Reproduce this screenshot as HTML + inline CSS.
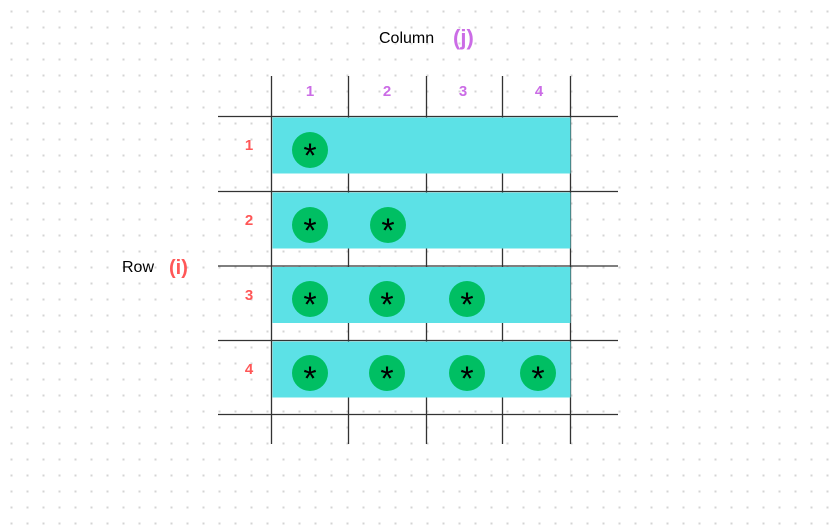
<!DOCTYPE html>
<html><head><meta charset="utf-8"><style>
html,body{margin:0;padding:0;background:#fff;}
svg{display:block;}
text{font-family:"Liberation Sans","DejaVu Sans",sans-serif;}
</style></head><body>
<svg width="829" height="527" viewBox="0 0 829 527" xmlns="http://www.w3.org/2000/svg">
<defs>
<pattern id="dots" x="0" y="0" width="16" height="16" patternUnits="userSpaceOnUse">
<rect x="10.5" y="10.5" width="2" height="2" fill="#d4d4d4"/>
</pattern>
</defs>
<rect width="829" height="527" fill="#fff"/>
<rect width="829" height="527" fill="url(#dots)"/>

<g stroke="#333" stroke-width="1.3">
<line x1="271.5" y1="76" x2="271.5" y2="444"/>
<line x1="348.5" y1="76" x2="348.5" y2="444"/>
<line x1="426.5" y1="76" x2="426.5" y2="444"/>
<line x1="502.5" y1="76" x2="502.5" y2="444"/>
<line x1="570.5" y1="76" x2="570.5" y2="444"/>
<line x1="218" y1="116.5" x2="618" y2="116.5"/>
<line x1="218" y1="191.5" x2="618" y2="191.5"/>
<line x1="218" y1="266" x2="618" y2="266"/>
<line x1="218" y1="340.5" x2="618" y2="340.5"/>
<line x1="218" y1="414.5" x2="618" y2="414.5"/>
</g>
<g fill="#5ce1e6">
<rect x="272.5" y="117.5" width="298" height="56"/>
<rect x="272.5" y="192.5" width="298" height="56"/>
<rect x="272.5" y="267" width="298" height="56"/>
<rect x="272.5" y="341.5" width="298" height="56"/>
</g>

<g fill="#00bf63">
<circle cx="310" cy="150" r="18"/>
<circle cx="310" cy="225" r="18"/>
<circle cx="388" cy="225" r="18"/>
<circle cx="310" cy="299" r="18"/>
<circle cx="387" cy="299" r="18"/>
<circle cx="467" cy="299" r="18"/>
<circle cx="310" cy="373" r="18"/>
<circle cx="387" cy="373" r="18"/>
<circle cx="467" cy="373" r="18"/>
<circle cx="538" cy="373" r="18"/>
</g>
<g font-size="34" fill="#000" text-anchor="middle">
<text x="310" y="167">*</text>
<text x="310" y="242">*</text>
<text x="388" y="242">*</text>
<text x="310" y="316">*</text>
<text x="387" y="316">*</text>
<text x="467" y="316">*</text>
<text x="310" y="390">*</text>
<text x="387" y="390">*</text>
<text x="467" y="390">*</text>
<text x="538" y="390">*</text>
</g>

<g font-size="15" font-weight="bold" fill="#cb6ce6" text-anchor="middle">
<text x="310" y="96">1</text>
<text x="387" y="96">2</text>
<text x="463" y="96">3</text>
<text x="539" y="96">4</text>
</g>
<g font-size="15" font-weight="bold" fill="#ff5757" text-anchor="middle">
<text x="249" y="150">1</text>
<text x="249" y="225">2</text>
<text x="249" y="300">3</text>
<text x="249" y="374">4</text>
</g>

<text x="379" y="43" font-size="16" fill="#000">Column</text>
<text x="453" y="45" font-size="22" font-weight="bold" fill="#cb6ce6">(j)</text>
<text x="122" y="272" font-size="16" fill="#000">Row</text>
<text x="169" y="274" font-size="20" font-weight="bold" fill="#ff5757">(i)</text>
</svg>
</body></html>
